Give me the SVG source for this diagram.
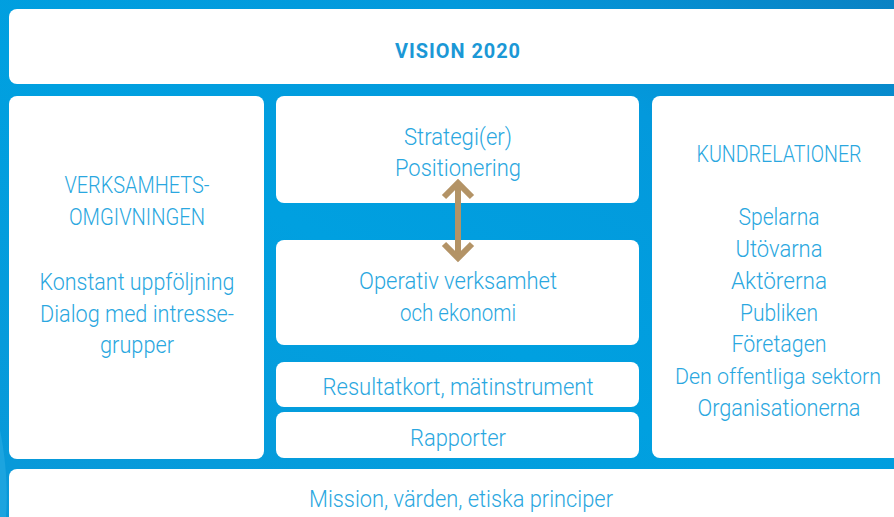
<svg xmlns="http://www.w3.org/2000/svg" width="894" height="517" viewBox="0 0 894 517">
  <defs>
    <linearGradient id="bg" x1="0" y1="1" x2="1" y2="0">
      <stop offset="0" stop-color="#0a98d8"/>
      <stop offset="0.45" stop-color="#00a0e0"/>
      <stop offset="0.75" stop-color="#0399dc"/>
      <stop offset="1" stop-color="#0a82c4"/>
    </linearGradient>
    <style>
      .box { fill: #ffffff; }
      .t { font-family: Roboto, "Liberation Sans", sans-serif; font-weight: 300; font-size: 23.5px; fill: #2aa7e0; text-anchor: middle; }
      .title { font-family: Roboto, "Liberation Sans", sans-serif; font-weight: 700; font-size: 21px; fill: #1b98d6; text-anchor: middle; letter-spacing: 1px; }
      .arrow { fill: none; stroke: #b39366; stroke-width: 6; }
    </style>
  </defs>

  <!-- backdrop -->
  <rect x="0" y="0" width="894" height="517" fill="url(#bg)"/>
  <path d="M0 430 C6 460 8 490 6 517 L0 517 Z" fill="#2fb0e6" opacity="0.5"/>

  <g id="vision">
    <rect class="box" x="9" y="9" width="900" height="75" rx="8"/>
    <text class="title" x="458" y="58" textLength="126" lengthAdjust="spacingAndGlyphs">VISION 2020</text>
  </g>

  <g id="verksamhetsomgivningen">
    <rect class="box" x="9" y="96" width="255" height="363" rx="8"/>
    <text class="t" x="137" y="193" textLength="145" lengthAdjust="spacingAndGlyphs">VERKSAMHETS-</text>
    <text class="t" x="137" y="225" textLength="136" lengthAdjust="spacingAndGlyphs">OMGIVNINGEN</text>
    <text class="t" x="137" y="290" textLength="195" lengthAdjust="spacingAndGlyphs">Konstant uppföljning</text>
    <text class="t" x="137" y="322" textLength="194" lengthAdjust="spacingAndGlyphs">Dialog med intresse-</text>
    <text class="t" x="137" y="353" textLength="74" lengthAdjust="spacingAndGlyphs">grupper</text>
  </g>

  <g id="strategi">
    <rect class="box" x="276" y="96" width="363" height="107" rx="8"/>
    <text class="t" x="458" y="145" textLength="108" lengthAdjust="spacingAndGlyphs">Strategi(er)</text>
    <text class="t" x="458" y="176" textLength="126" lengthAdjust="spacingAndGlyphs">Positionering</text>
  </g>

  <g id="operativ">
    <rect class="box" x="276" y="240" width="363" height="105" rx="8"/>
    <text class="t" x="458" y="289" textLength="198" lengthAdjust="spacingAndGlyphs">Operativ verksamhet</text>
    <text class="t" x="458" y="321" textLength="116" lengthAdjust="spacingAndGlyphs">och ekonomi</text>
  </g>

  <g id="resultatkort">
    <rect class="box" x="276" y="362" width="363" height="45" rx="8"/>
    <text class="t" x="458" y="395" textLength="271" lengthAdjust="spacingAndGlyphs">Resultatkort, mätinstrument</text>
  </g>

  <g id="rapporter">
    <rect class="box" x="276" y="412" width="363" height="46" rx="8"/>
    <text class="t" x="458" y="446" textLength="96" lengthAdjust="spacingAndGlyphs">Rapporter</text>
  </g>

  <g id="kundrelationer">
    <rect class="box" x="652" y="96" width="260" height="362" rx="8"/>
    <text class="t" x="779" y="162" textLength="165" lengthAdjust="spacingAndGlyphs">KUNDRELATIONER</text>
    <text class="t" x="779" y="225" textLength="81" lengthAdjust="spacingAndGlyphs">Spelarna</text>
    <text class="t" x="779" y="257" textLength="87" lengthAdjust="spacingAndGlyphs">Utövarna</text>
    <text class="t" x="779" y="289" textLength="96" lengthAdjust="spacingAndGlyphs">Aktörerna</text>
    <text class="t" x="779" y="321" textLength="78" lengthAdjust="spacingAndGlyphs">Publiken</text>
    <text class="t" x="779" y="352" textLength="95" lengthAdjust="spacingAndGlyphs">Företagen</text>
    <text class="t" x="778" y="384" style="font-size:22px" textLength="206" lengthAdjust="spacingAndGlyphs">Den offentliga sektorn</text>
    <text class="t" x="779" y="416" textLength="163" lengthAdjust="spacingAndGlyphs">Organisationerna</text>
  </g>

  <g id="mission">
    <rect class="box" x="9" y="469" width="900" height="60" rx="8"/>
    <text class="t" x="461" y="507" textLength="304" lengthAdjust="spacingAndGlyphs">Mission, värden, etiska principer</text>
  </g>

  <!-- two-way link between strategy and operations -->
  <g id="connectors">
    <line class="arrow" x1="458" y1="184" x2="458" y2="257"/>
    <polyline class="arrow" points="444,197 458,183 472,197"/>
    <polyline class="arrow" points="444,244 458,258 472,244"/>
  </g>
</svg>
